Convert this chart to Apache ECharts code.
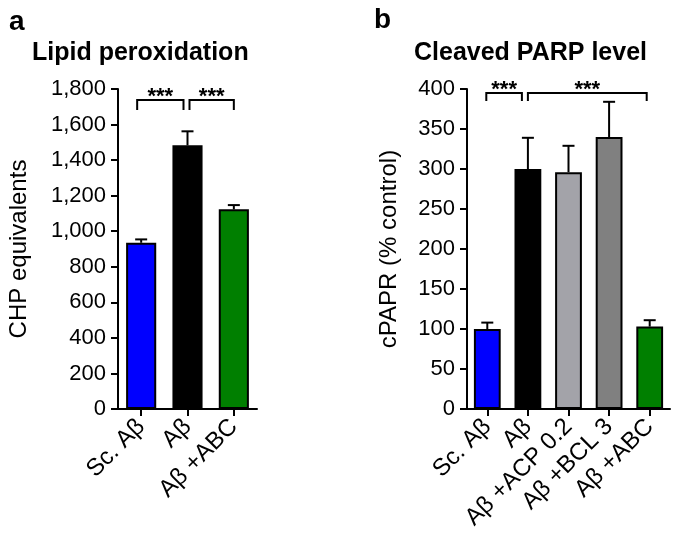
<!DOCTYPE html>
<html><head><meta charset="utf-8">
<script src="https://cdn.jsdelivr.net/npm/echarts@6/dist/echarts.min.js"></script>
<style>html,body{margin:0;padding:0;background:#fff}#c{width:677px;height:545px}</style>
</head><body><div id="c"></div>
<script>
// Panel a
const catsA = ['Sc. Aβ', 'Aβ', 'Aβ +ABC'];
const meanA = [935, 1483, 1123];
const errA = [19, 79, 24];
const colorsA = ['#0000ff', '#000000', '#007f00'];
const yMaxA = 1800, yStepA = 200;
const bracketsA = [[0, 1, 1738, 1682, '***'], [1, 2, 1738, 1682, '***']];
// Panel b
const catsB = ['Sc. Aβ', 'Aβ', 'Aβ +ACP 0.2', 'Aβ +BCL 3', 'Aβ +ABC'];
const meanB = [100, 300, 296, 340, 103];
const errB = [8, 39, 33, 44, 8];
const colorsB = ['#0000ff', '#000000', '#a3a3a9', '#808080', '#007f00'];
const yMaxB = 400, yStepB = 50;
const bracketsB = [[0, 1, 395, 385, '***'], [1, 4, 395, 385, '***']];

const FONT = "'Liberation Sans', Arial, sans-serif";
const bracketOffA = [[-4, -4], [2, 0]];
const bracketOffB = [[-1, -6], [0, -3]];

function errSeries(idx, means, errs) {
  return {
    type: 'custom', xAxisIndex: idx, yAxisIndex: idx, clip: false, z: 5,
    data: means.map((m, i) => [i, m, m + errs[i]]),
    renderItem: function (params, api) {
      const b = api.coord([api.value(0), api.value(1)]);
      const t = api.coord([api.value(0), api.value(2)]);
      const w = 6;
      return {
        type: 'group', children: [
          { type: 'line', shape: { x1: b[0], y1: b[1], x2: t[0], y2: t[1] }, style: { stroke: '#000', lineWidth: 2 } },
          { type: 'line', shape: { x1: t[0] - w, y1: t[1], x2: t[0] + w, y2: t[1] }, style: { stroke: '#000', lineWidth: 2 } }
        ]
      };
    }
  };
}
function bracketSeries(idx, brackets, offs) {
  return {
    type: 'custom', xAxisIndex: idx, yAxisIndex: idx, clip: false, z: 6,
    data: brackets.map(b => [b[0], b[1], b[2], b[3]]),
    renderItem: function (params, api) {
      const i = params.dataIndex;
      const o = offs[i];
      const p0 = api.coord([api.value(0), api.value(2)]);
      const p1 = api.coord([api.value(1), api.value(2)]);
      const leg = api.coord([api.value(0), api.value(3)]);
      const x0 = p0[0] + o[0], x1 = p1[0] + o[1], y = p0[1], yl = leg[1];
      return {
        type: 'group', children: [
          { type: 'polyline', shape: { points: [[x0, yl], [x0, y], [x1, y], [x1, yl]] }, style: { stroke: '#000', lineWidth: 2, fill: null } },
          { type: 'text', style: { text: brackets[i][4], x: (x0 + x1) / 2, y: y - 3, align: 'center', verticalAlign: 'middle', font: 'bold 22px ' + FONT, fill: '#000' } }
        ]
      };
    }
  };
}
function yAxis(idx, max, step, name, gap, fmt) {
  return {
    type: 'value', gridIndex: idx, min: 0, max: max, interval: step,
    name: name, nameLocation: 'middle', nameGap: gap, nameRotate: 90,
    nameTextStyle: { fontFamily: FONT, fontSize: 24, color: '#000' },
    axisLine: { show: true, lineStyle: { color: '#000', width: 2 } },
    axisTick: { show: true, length: 7, lineStyle: { color: '#000', width: 2 } },
    axisLabel: { fontFamily: FONT, fontSize: 22, color: '#000', margin: 12, formatter: fmt },
    splitLine: { show: false }
  };
}
function xAxis(idx, cats) {
  return {
    type: 'category', gridIndex: idx, data: cats,
    axisLine: { show: true, lineStyle: { color: '#000', width: 2 } },
    axisTick: { show: true, alignWithLabel: true, length: 7, lineStyle: { color: '#000', width: 2 } },
    axisLabel: { fontFamily: FONT, fontSize: 24, color: '#000', rotate: 45, margin: 14, interval: 0 }
  };
}
const chart = echarts.init(document.getElementById('c'), null, { renderer: 'canvas' });
chart.setOption({
  backgroundColor: '#fff',
  animation: false,
  title: [
    { text: 'a', left: 9, top: 8, padding: 0, textStyle: { fontFamily: FONT, fontSize: 28, fontWeight: 'bold', color: '#000' } },
    { text: 'Lipid peroxidation', left: 32, top: 41, padding: 0, textStyle: { fontFamily: FONT, fontSize: 25, fontWeight: 'bold', color: '#000' } },
    { text: 'b', left: 374, top: 6, padding: 0, textStyle: { fontFamily: FONT, fontSize: 28, fontWeight: 'bold', color: '#000' } },
    { text: 'Cleaved PARP level', left: 414, top: 41, padding: 0, textStyle: { fontFamily: FONT, fontSize: 25, fontWeight: 'bold', color: '#000' } }
  ],
  grid: [
    { left: 118, right: 420, top: 89, bottom: 136 },
    { left: 467, right: 7, top: 89, bottom: 136 }
  ],
  xAxis: [xAxis(0, catsA), xAxis(1, catsB)],
  yAxis: [
    yAxis(0, yMaxA, yStepA, 'CHP equivalents', 87, v => v.toLocaleString('en-US')),
    yAxis(1, yMaxB, yStepB, 'cPAPR (% control)', 66, v => String(v))
  ],
  series: [
    {
      type: 'bar', xAxisIndex: 0, yAxisIndex: 0, barWidth: '65%',
      data: meanA.map((v, i) => ({ value: v, itemStyle: { color: colorsA[i] } })),
      itemStyle: { borderColor: '#000', borderWidth: 2 }
    },
    errSeries(0, meanA, errA),
    bracketSeries(0, bracketsA, bracketOffA),
    {
      type: 'bar', xAxisIndex: 1, yAxisIndex: 1, barWidth: '66%',
      data: meanB.map((v, i) => ({ value: v, itemStyle: { color: colorsB[i] } })),
      itemStyle: { borderColor: '#000', borderWidth: 2 }
    },
    errSeries(1, meanB, errB),
    bracketSeries(1, bracketsB, bracketOffB)
  ]
});
</script></body></html>
